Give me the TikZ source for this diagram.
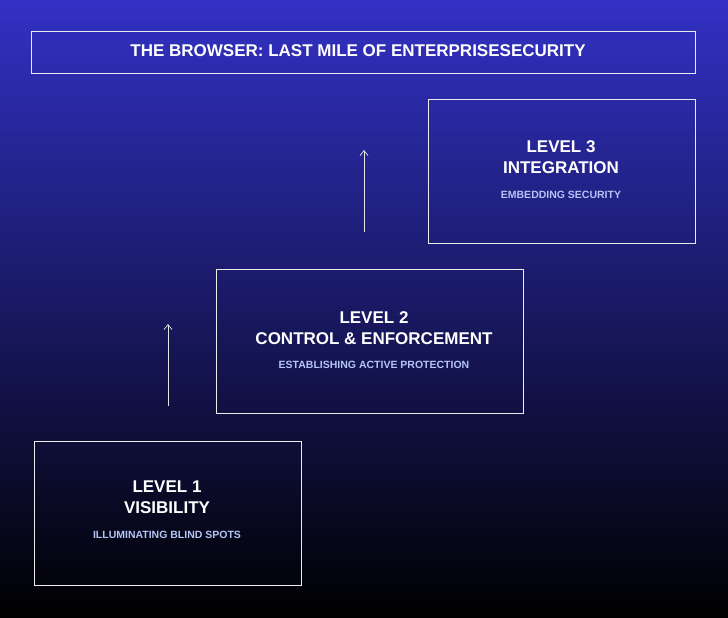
\documentclass[tikz,border=0pt]{standalone}
\usepackage{fontspec}
\setmainfont{Liberation Sans}
\usetikzlibrary{arrows.meta}
\definecolor{topc}{HTML}{3231C4}
\definecolor{botc}{HTML}{000000}
\definecolor{subc}{HTML}{B4C4F4}
\tikzset{
  box/.style={draw=white!85!gray, line width=0.9pt, inner sep=0pt},
  ttl/.style={text=white, font=\bfseries\fontsize{17}{21}\selectfont, align=center},
  sub/.style={text=subc, font=\bfseries\fontsize{10.5}{12}\selectfont},
  up/.style={draw=white!80!gray, line width=0.7pt, -{Straight Barb[length=5pt,width=8pt]}}
}
\begin{document}
\begin{tikzpicture}[x=1pt,y=-1pt]
\shade[top color=topc, bottom color=botc] (0,0) rectangle (728,618);
\useasboundingbox (0,0) rectangle (728,618);
\draw[box] (31,31) rectangle (695,73);
\node[ttl] (title) at (358,51) {THE BROWSER: LAST MILE OF ENTERPRISESECURITY};
\draw[box] (428,99) rectangle (695,243);
\node[ttl] (t3) at (561,157) {LEVEL 3\\INTEGRATION};
\node[sub] (s3) at (561,195) {EMBEDDING SECURITY};
\draw[box] (216,269) rectangle (523,413);
\node[ttl] (t2) at (374,328) {LEVEL 2\\CONTROL \& ENFORCEMENT};
\node[sub] (s2) at (374,365) {ESTABLISHING ACTIVE PROTECTION};
\draw[box] (34,441) rectangle (301,585);
\node[ttl] (t1) at (167,497) {LEVEL 1\\VISIBILITY};
\node[sub] (s1) at (167,535) {ILLUMINATING BLIND SPOTS};
\coordinate (a1s) at (168,406); \coordinate (a1e) at (168,324);
\coordinate (a2s) at (364,232); \coordinate (a2e) at (364,150);
\draw[up] (a1s) -- (a1e);
\draw[up] (a2s) -- (a2e);
\end{tikzpicture}
\end{document}
